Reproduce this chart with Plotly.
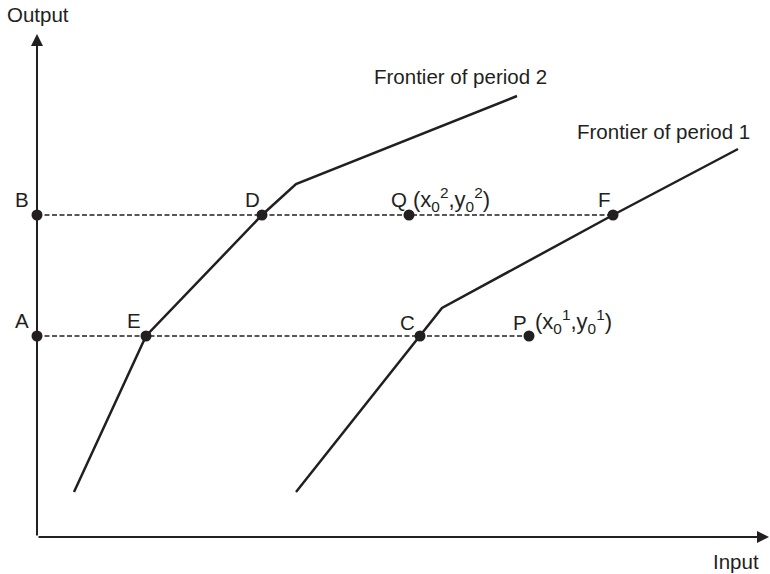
import plotly.graph_objects as go

# Frontier kinks (input, output)
frontier2_x = [3.7, 10.9, 22.5, 25.9, 48.0]
frontier2_y = [4.5, 20.1, 32.2, 35.3, 44.1]
frontier1_x = [25.9, 38.3, 40.5, 57.6, 70.1]
frontier1_y = [4.5, 20.1, 22.9, 32.2, 38.8]

# Labelled points
point_names = ['A', 'B', 'E', 'D', 'C', 'F', 'Q', 'P']
point_x = [0, 0, 10.9, 22.5, 38.3, 57.6, 37.2, 49.2]
point_y = [20.1, 32.2, 20.1, 32.2, 20.1, 32.2, 32.2, 20.1]

# Dashed output levels: (y, x end)
levels_y = [20.1, 32.2]
levels_x_end = [49.2, 57.6]

ink = '#231f20'
font = dict(family='Liberation Sans, Arial, sans-serif', size=20.5, color=ink)

fig = go.Figure()

for y, xe in zip(levels_y, levels_x_end):
    fig.add_trace(go.Scatter(x=[0, xe], y=[y, y], mode='lines',
                             line=dict(color=ink, width=1.3, dash='5px,2.5px')))

fig.add_trace(go.Scatter(x=frontier2_x, y=frontier2_y, mode='lines',
                         line=dict(color=ink, width=2.5)))
fig.add_trace(go.Scatter(x=frontier1_x, y=frontier1_y, mode='lines',
                         line=dict(color=ink, width=2.5)))

fig.add_trace(go.Scatter(x=point_x, y=point_y, mode='markers',
                         marker=dict(color=ink, size=11), cliponaxis=False))

# axes with arrowheads
fig.add_annotation(x=0, y=50.3, ax=0, ay=0, xref='x', yref='y', axref='x', ayref='y',
                   text='', showarrow=True, arrowhead=2, arrowsize=1.2, arrowwidth=2, arrowcolor=ink)
fig.add_annotation(x=73.2, y=0, ax=0, ay=0, xref='x', yref='y', axref='x', ayref='y',
                   text='', showarrow=True, arrowhead=2, arrowsize=1.2, arrowwidth=2, arrowcolor=ink)

# letter labels (offset up-left of each point)
label_off = {'A': (-1.5, 1.6), 'B': (-1.5, 1.6), 'E': (-1.2, 1.6), 'D': (-1.0, 1.6),
             'C': (-1.3, 1.4), 'F': (-0.9, 1.6), 'Q': (-1.0, 1.6), 'P': (-0.9, 1.4)}
for n, x, y in zip(point_names, point_x, point_y):
    dx, dy = label_off[n]
    fig.add_annotation(x=x + dx, y=y + dy, text=n, showarrow=False, font=font)

sub_sup = dict(family=font['family'], size=22, color=ink)
fig.add_annotation(x=37.4, y=33.8, text='(x<sub>0</sub><sup>2</sup>,y<sub>0</sub><sup>2</sup>)',
                   showarrow=False, xanchor='left', font=sub_sup)
fig.add_annotation(x=49.6, y=21.6, text='(x<sub>0</sub><sup>1</sup>,y<sub>0</sub><sup>1</sup>)',
                   showarrow=False, xanchor='left', font=sub_sup)

fig.add_annotation(x=42.3, y=46.1, text='Frontier of period 2', showarrow=False, font=font)
fig.add_annotation(x=62.6, y=40.6, text='Frontier of period 1', showarrow=False, font=font)

fig.add_annotation(x=0.1, y=52.3, text='Output', showarrow=False, font=font)
fig.add_annotation(x=69.9, y=-2.4, text='Input', showarrow=False, font=font)

fig.update_layout(
    width=770, height=574,
    margin=dict(l=0, r=0, t=0, b=0),
    paper_bgcolor='white', plot_bgcolor='white',
    showlegend=False,
    hovermode=False,
    xaxis=dict(range=[-3.7, 73.3], visible=False, fixedrange=True),
    yaxis=dict(range=[-3.7, 53.7], visible=False, fixedrange=True),
)

fig.write_html('out.html', config={'displayModeBar': False},
               post_script="document.body.style.margin='0';")
